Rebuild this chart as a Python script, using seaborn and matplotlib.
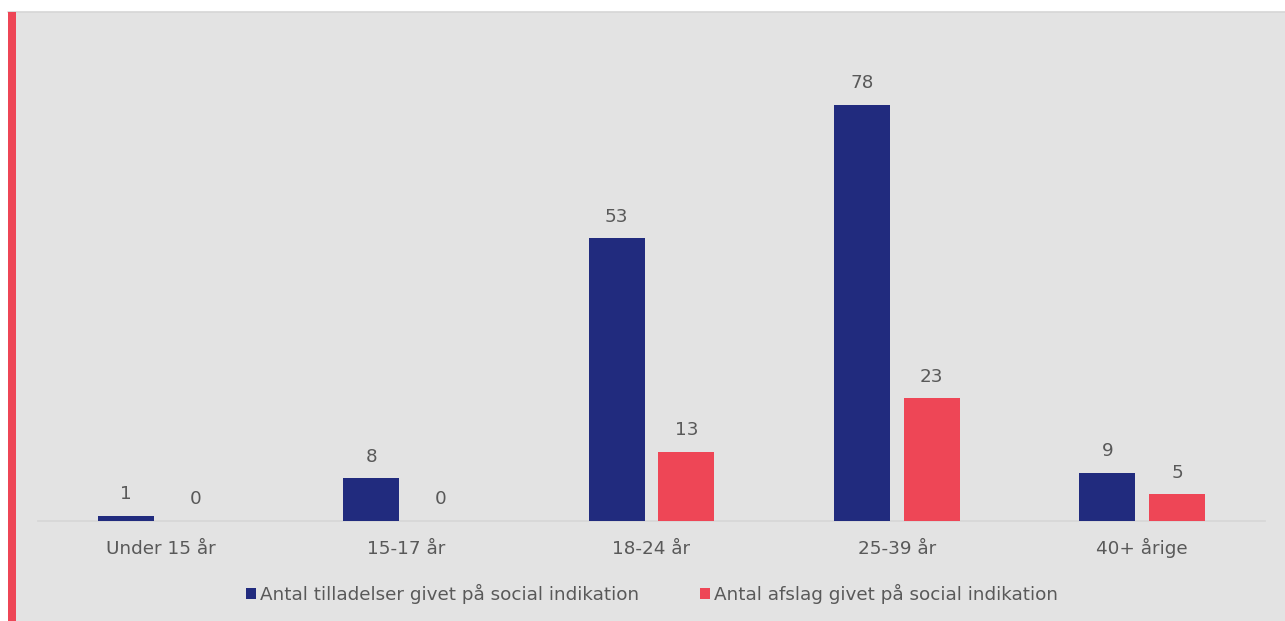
import matplotlib
matplotlib.use("Agg")
import matplotlib.pyplot as plt
from matplotlib.patches import Rectangle
from matplotlib.lines import Line2D
import seaborn as sns
import pandas as pd

categories = ["Under 15 år", "15-17 år", "18-24 år", "25-39 år", "40+ årige"]
series_names = ["Antal tilladelser givet på social indikation",
                "Antal afslag givet på social indikation"]
tilladelser = [1, 8, 53, 78, 9]
afslag = [0, 0, 13, 23, 5]

navy = "#212b7e"
red = "#ee4656"
bg = "#e3e3e3"
txt = "#595959"
FS = 13.2

df = pd.DataFrame({
    "Alder": categories * 2,
    "Serie": [series_names[0]] * len(categories) + [series_names[1]] * len(categories),
    "Antal": tilladelser + afslag,
})

sns.set_theme(style="white")
plt.rcParams["font.family"] = ["DejaVu Sans"]

W, H = 1285, 621
fig = plt.figure(figsize=(W / 100, H / 100), dpi=100, facecolor="white")

# gray panel + borders
fig.patches.append(Rectangle((8 / W, 0), 1 - 8 / W, (H - 12) / H, transform=fig.transFigure,
                             facecolor=bg, edgecolor="none", zorder=-3))
fig.lines.append(Line2D([8 / W, 1], [(H - 11.5) / H] * 2, transform=fig.transFigure,
                        color="#d6d6d6", lw=1.2, zorder=-2))
fig.patches.append(Rectangle((8 / W, 0), 8 / W, (H - 12) / H, transform=fig.transFigure,
                             facecolor=red, edgecolor="none", zorder=-1))

ax = fig.add_axes([38 / W, (H - 521) / H, (1265 - 38) / W, (521 - 12) / H])
ax.set_facecolor("none")

sns.barplot(data=df, x="Alder", y="Antal", hue="Serie", order=categories,
            hue_order=series_names, palette=[navy, red], width=0.57, gap=0.2,
            saturation=1, ax=ax, legend=True, zorder=3, linewidth=0, edgecolor="none")

ax.set_xlim(-0.5, 4.5)
ax.set_ylim(0, 95.4)
for c in ax.containers:
    ax.bar_label(c, labels=[f"{int(v)}" for v in c.datavalues], padding=9,
                 fontsize=FS, color=txt)

for s in ["top", "right", "left"]:
    ax.spines[s].set_visible(False)
ax.spines["bottom"].set_color("#d6d6d6")
ax.spines["bottom"].set_linewidth(1.2)
ax.set_yticks([])
ax.set_xlabel("")
ax.set_ylabel("")
ax.tick_params(axis="x", length=0, pad=23.5, labelsize=FS, labelcolor=txt)
for lbl in ax.get_xticklabels():
    lbl.set_verticalalignment("baseline")

handles, labels = ax.get_legend_handles_labels()
ax.legend_.remove()
leg = fig.legend(handles, labels, loc="center", bbox_to_anchor=(652 / W, (H - 594) / H),
                 ncol=2, frameon=False, fontsize=FS, handlelength=0.55, handleheight=0.55,
                 handletextpad=0.25, columnspacing=3.3, labelcolor=txt)
for h in leg.legend_handles:
    h.set_edgecolor("none")
    h.set_linewidth(0)

fig.savefig("out.png", dpi=100, facecolor="white")
